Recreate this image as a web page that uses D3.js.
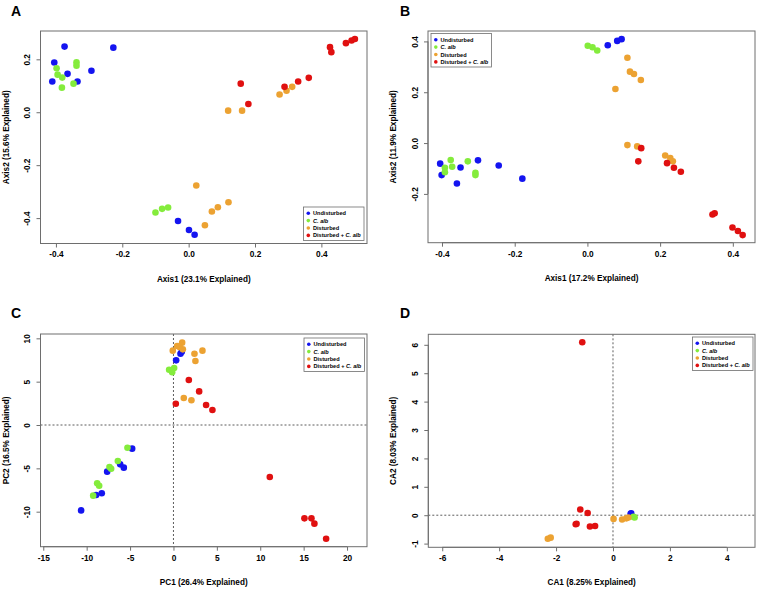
<!DOCTYPE html>
<html><head><meta charset="utf-8">
<script src="https://cdn.jsdelivr.net/npm/d3@7"></script>
<style>
body{margin:0;background:#fff;}
text{font-family:"Liberation Sans",Arial,sans-serif;font-weight:bold;}
</style></head>
<body><svg id="chart" width="758" height="590"></svg>
<script>
const groups = ["Undisturbed","C. alb","Disturbed","Disturbed + C. alb"];
const groupColors = ["#1414f0","#84ec3c","#eca232","#e01010"];

// Panel A (Axis1 vs Axis2)
const aUndisturbed = [[-0.374,0.248],[-0.405,0.188],[-0.411,0.116],[-0.365,0.145],[-0.335,0.116],[-0.293,0.157],[-0.227,0.244],[-0.032,-0.411],[0.001,-0.445],[0.018,-0.463]];
const aCalb = [[-0.398,0.166],[-0.395,0.142],[-0.381,0.131],[-0.382,0.093],[-0.347,0.108],[-0.338,0.189],[-0.338,0.176],[-0.100,-0.379],[-0.080,-0.365],[-0.062,-0.360]];
const aDisturbed = [[0.119,0.006],[0.161,0.006],[0.023,-0.277],[0.120,-0.340],[0.088,-0.359],[0.070,-0.375],[0.049,-0.427],[0.274,0.067],[0.295,0.081],[0.312,0.096]];
const aDistCalb = [[0.157,0.108],[0.180,0.031],[0.289,0.096],[0.330,0.116],[0.362,0.130],[0.426,0.246],[0.430,0.227],[0.474,0.261],[0.491,0.271],[0.501,0.277]];
const aXTicks = [-0.4,-0.2,0.0,0.2,0.4];
const aYTicks = [-0.4,-0.2,0.0,0.2];

// Panel B
const bUndisturbed = [[-0.405,-0.081],[-0.401,-0.126],[-0.359,-0.159],[-0.349,-0.096],[-0.301,-0.068],[-0.244,-0.088],[-0.179,-0.140],[0.056,0.385],[0.082,0.402],[0.094,0.409]];
const bCalb = [[-0.392,-0.097],[-0.392,-0.115],[-0.376,-0.067],[-0.372,-0.093],[-0.329,-0.072],[-0.308,-0.117],[-0.308,-0.126],[0.001,0.383],[0.014,0.377],[0.027,0.364]];
const bDisturbed = [[0.110,0.336],[0.117,0.281],[0.128,0.272],[0.147,0.248],[0.077,0.213],[0.110,-0.008],[0.137,-0.013],[0.214,-0.049],[0.228,-0.059],[0.235,-0.072]];
const bDistCalb = [[0.148,-0.020],[0.140,-0.072],[0.219,-0.079],[0.238,-0.097],[0.257,-0.113],[0.344,-0.281],[0.350,-0.276],[0.399,-0.332],[0.414,-0.346],[0.427,-0.362]];
const bXTicks = [-0.4,-0.2,0.0,0.2,0.4];
const bYTicks = [-0.2,0.0,0.2,0.4];

// Panel C (PCA)
const cUndisturbed = [[-10.64,-9.85],[-8.91,-8.08],[-8.26,-7.88],[-7.64,-5.38],[-6.14,-4.54],[-5.72,-4.92],[-4.76,-2.73],[0.31,7.46],[0.81,8.23],[0.96,8.46]];
const cCalb = [[-9.25,-8.15],[-8.79,-6.73],[-8.56,-7.0],[-7.37,-4.85],[-7.18,-5.04],[-6.41,-4.15],[-5.30,-2.62],[-0.5,6.38],[-0.15,6.08],[0.08,6.58]];
const cDisturbed = [[-0.08,8.58],[0.42,9.12],[1.0,9.5],[1.08,8.73],[2.42,8.23],[3.34,8.58],[2.53,7.38],[1.19,3.12],[2.07,2.85],[0.7,9.0]];
const cDistCalb = [[0.27,2.46],[1.77,5.19],[2.96,3.88],[3.76,2.31],[4.49,1.73],[11.1,-6.0],[15.09,-10.77],[15.9,-10.77],[16.24,-11.38],[17.59,-13.12]];
const cXTicks = [-15,-10,-5,0,5,10,15,20];
const cYTicks = [-10,-5,0,5,10];

// Panel D (CA)
const dUndisturbed = [[0.64,0.07],[0.62,0.05]];
const dCalb = [[0.76,-0.08],[0.72,-0.06]];
const dDisturbed = [[-2.29,-0.83],[-2.19,-0.79],[0.02,-0.13],[0.32,-0.15],[0.47,-0.11],[0.54,-0.08]];
const dDistCalb = [[-1.08,6.09],[-1.15,0.20],[-0.89,0.08],[-1.31,-0.32],[-1.28,-0.30],[-0.81,-0.40],[-0.63,-0.38]];
const dXTicks = [-6,-4,-2,0,2,4];
const dYTicks = [-1,0,1,2,3,4,5,6];

const svg = d3.select("#chart");

function panel(o){
  const g = svg.append("g");
  const x = d3.scaleLinear().domain(o.xdom).range([o.box[0], o.box[2]]);
  const y = d3.scaleLinear().domain(o.ydom).range([o.box[3], o.box[1]]);
  g.append("text").attr("x", o.letter[1]).attr("y", o.letter[2]).attr("font-size", 14).attr("fill","#000").text(o.letter[0]);
  if (o.zero){
    g.append("line").attr("x1", x(0)).attr("x2", x(0)).attr("y1", o.box[1]).attr("y2", o.box[3])
      .attr("stroke","#333").attr("stroke-width",0.8).attr("stroke-dasharray","2,2");
    g.append("line").attr("x1", o.box[0]).attr("x2", o.box[2]).attr("y1", y(0)).attr("y2", y(0))
      .attr("stroke","#333").attr("stroke-width",0.8).attr("stroke-dasharray","2,2");
  }
  o.series.forEach((s,i)=>{
    g.append("g").selectAll("circle").data(s).join("circle")
      .attr("cx", d=>x(d[0])).attr("cy", d=>y(d[1])).attr("r", 3.3).attr("fill", groupColors[i]);
  });
  g.append("rect").attr("x", o.box[0]).attr("y", o.box[1]).attr("width", o.box[2]-o.box[0]).attr("height", o.box[3]-o.box[1])
    .attr("fill","none").attr("stroke","#6e6e6e").attr("stroke-width",1);
  const fmt = o.fmt;
  const xa = g.append("g").attr("transform", `translate(0,${o.box[3]})`)
    .call(d3.axisBottom(x).tickValues(o.xticks).tickFormat(fmt).tickSize(4).tickSizeOuter(0).tickPadding(4));
  xa.select(".domain").attr("d", `M${x(o.xticks[0])},0H${x(o.xticks[o.xticks.length-1])}`).attr("stroke","#6e6e6e");
  xa.selectAll(".tick line").attr("stroke","#6e6e6e");
  xa.selectAll(".tick text").attr("font-size", 8.3).attr("font-family","Liberation Sans, Arial, sans-serif").attr("font-weight","bold").attr("fill","#000");
  const ya = g.append("g").attr("transform", `translate(${o.box[0]},0)`)
    .call(d3.axisLeft(y).tickValues(o.yticks).tickFormat(fmt).tickSize(4).tickSizeOuter(0));
  ya.select(".domain").attr("d", `M0,${y(o.yticks[0])}V${y(o.yticks[o.yticks.length-1])}`).attr("stroke","#6e6e6e");
  ya.selectAll(".tick line").attr("stroke","#6e6e6e");
  ya.selectAll(".tick text").attr("font-size", 8.3).attr("font-family","Liberation Sans, Arial, sans-serif").attr("font-weight","bold").attr("fill","#000")
    .attr("x", null).attr("dy", null).attr("text-anchor","middle")
    .attr("transform","translate(-10.5,0) rotate(-90)");
  g.append("text").attr("x", (o.box[0]+o.box[2])/2).attr("y", o.box[3]+38).attr("text-anchor","middle")
    .attr("font-size", 8.2).attr("fill","#000").text(o.xtitle);
  g.append("text").attr("transform", `translate(${o.box[0]-32},${(o.box[1]+o.box[3])/2}) rotate(-90)`).attr("text-anchor","middle")
    .attr("font-size", 8.2).attr("fill","#000").text(o.ytitle);
  const L = o.legend;
  const lg = g.append("g").attr("transform", `translate(${L[0]},${L[1]})`);
  lg.append("rect").attr("width", 60.5).attr("height", 33.5).attr("fill","#fff").attr("stroke","#6e6e6e").attr("stroke-width",0.8);
  groups.forEach((name,i)=>{
    const row = lg.append("g").attr("transform", `translate(0,${6.2+i*7.4})`);
    row.append("circle").attr("cx", 4.8).attr("cy", 0).attr("r", 1.8).attr("fill", groupColors[i]);
    const t = row.append("text").attr("x", 9.5).attr("y", 2).attr("font-size", 5.6).attr("fill","#000");
    if (name.includes("C. alb")){
      const pre = name.replace("C. alb","");
      if (pre) t.append("tspan").text(pre);
      t.append("tspan").attr("font-style","italic").text("C. alb");
    } else t.text(name);
  });
}

const f1 = d3.format(".1f");
const f0 = d => d3.format("d")(d).replace("−","-");
const f1m = d => f1(d).replace("−","-");

panel({letter:["A",11,16], box:[40.5,31,367,243.5], xdom:[-0.4465,0.5375], ydom:[-0.496,0.307],
  xticks:aXTicks, yticks:aYTicks, fmt:f1m, series:[aUndisturbed,aCalb,aDisturbed,aDistCalb],
  xtitle:"Axis1 (23.1% Explained)", ytitle:"Axis2 (15.6% Explained)", legend:[303.5,207], zero:false});
panel({letter:["B",400,16], box:[428,31,755,242.7], xdom:[-0.4385,0.461], ydom:[-0.392,0.441],
  xticks:bXTicks, yticks:bYTicks, fmt:f1m, series:[bUndisturbed,bCalb,bDisturbed,bDistCalb],
  xtitle:"Axis1 (17.2% Explained)", ytitle:"Axis2 (11.9% Explained)", legend:[431,33.5], zero:false});
panel({letter:["C",11,318], box:[40.5,334,367,546.7], xdom:[-15.32,22.3], ydom:[-14.04,10.5],
  xticks:cXTicks, yticks:cYTicks, fmt:f0, series:[cUndisturbed,cCalb,cDisturbed,cDistCalb],
  xtitle:"PC1 (26.4% Explained)", ytitle:"PC2 (16.5% Explained)", legend:[304,338], zero:true});
panel({letter:["D",400,318], box:[428.3,334.3,755,547.3], xdom:[-6.49,4.99], ydom:[-1.13,6.37],
  xticks:dXTicks, yticks:dYTicks, fmt:f0, series:[dUndisturbed,dCalb,dDisturbed,dDistCalb],
  xtitle:"CA1 (8.25% Explained)", ytitle:"CA2 (8.03% Explained)", legend:[692.5,337], zero:true});
</script></body></html>
